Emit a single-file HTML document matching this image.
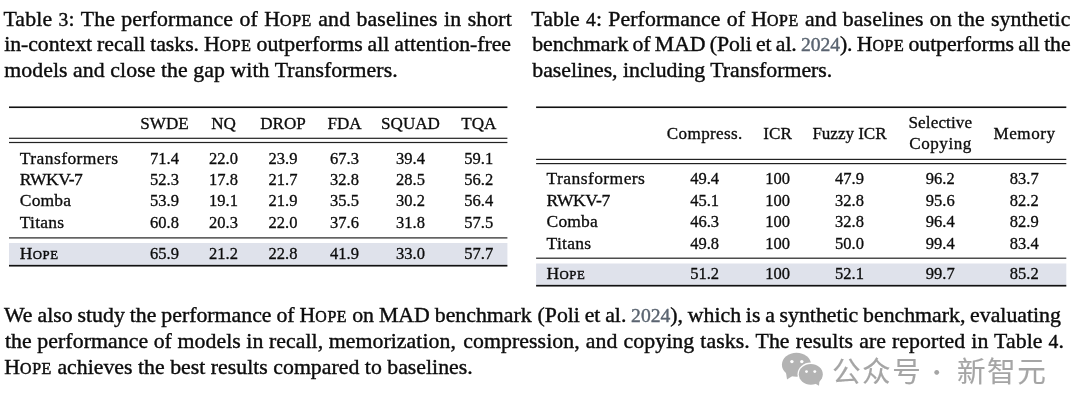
<!DOCTYPE html>
<html lang="en"><head><meta charset="utf-8"><title>Tables</title>
<style>
html,body{margin:0;padding:0;background:#fff;}
body{width:1080px;height:414px;position:relative;overflow:hidden;font-family:"Liberation Serif","Noto Sans CJK SC",serif;color:#0c0c0c;}
.l{position:absolute;white-space:nowrap;font-size:21.8px;line-height:26px;height:26px;-webkit-text-stroke-width:.4px}
small{font-size:.73em;letter-spacing:.6px;-webkit-text-stroke-width:.5px}
.m small{-webkit-text-stroke-width:.42px}
.y{color:#5a6470}
.d{font-size:.9em}
svg.g{position:absolute;left:0;top:0}
.c{-webkit-text-stroke-width:.32px;position:absolute;width:100px;margin-left:-50px;text-align:center;white-space:nowrap;font-size:16.5px;line-height:20px;height:20px}
.h{font-size:17.1px}
.m{-webkit-text-stroke-width:.32px;position:absolute;white-space:nowrap;font-size:17.5px;line-height:20px;height:20px}
.wm{position:absolute;top:349.6px;font-family:"Noto Sans CJK SC","Liberation Sans",sans-serif;font-size:28.6px;line-height:40px;color:#a5a5a5;letter-spacing:1.5px;white-space:nowrap;-webkit-text-stroke-width:.12px}
</style></head><body>
<svg class="g" width="1080" height="414" viewBox="0 0 1080 414">
<rect x="9.0" y="243.0" width="498.4" height="21.90" fill="#dfe2eb"/>
<rect x="9.0" y="106.45" width="498.4" height="1.6" fill="#111"/>
<rect x="9.0" y="137.70" width="498.4" height="1.2" fill="#222"/>
<rect x="9.0" y="141.90" width="498.4" height="1.2" fill="#222"/>
<rect x="9.0" y="237.30" width="498.4" height="1.2" fill="#222"/>
<rect x="9.0" y="264.85" width="498.4" height="1.7" fill="#111"/>
<rect x="536.1" y="263.5" width="530.2" height="21.40" fill="#dfe2eb"/>
<rect x="536.1" y="106.45" width="530.2" height="1.6" fill="#111"/>
<rect x="536.1" y="158.80" width="530.2" height="1.2" fill="#222"/>
<rect x="536.1" y="163.00" width="530.2" height="1.2" fill="#222"/>
<rect x="536.1" y="257.60" width="530.2" height="1.2" fill="#222"/>
<rect x="536.1" y="284.85" width="530.2" height="1.7" fill="#111"/>
</svg>
<div class="l" style="left:3.4px;top:5.6px;letter-spacing:0.150px;word-spacing:0.719px">Table <span class="d">3</span>: The performance of H<small>OPE</small> and baselines in short</div>
<div class="l" style="left:4.2px;top:31.1px;letter-spacing:-0.050px;word-spacing:-0.364px">in-context recall tasks. H<small>OPE</small> outperforms all attention-free</div>
<div class="l" style="left:4.2px;top:56.6px;letter-spacing:0.072px">models and close the gap with Transformers.</div>
<div class="l" style="left:531.3px;top:5.6px;letter-spacing:0.100px;word-spacing:0.553px">Table <span class="d">4</span>: Performance of H<small>OPE</small> and baselines on the synthetic</div>
<div class="l" style="left:532.3px;top:31.1px;letter-spacing:-0.100px;word-spacing:-1.016px">benchmark of MAD (Poli et al. <span class="y d">2024</span>). H<small>OPE</small> outperforms all the</div>
<div class="l" style="left:532.3px;top:56.6px;letter-spacing:-0.009px">baselines, including Transformers.</div>
<div class="l" style="left:4px;top:301.6px;letter-spacing:0.000px;word-spacing:-0.478px">We also study the performance of H<small>OPE</small> on MAD benchmark</div>
<div class="l" style="left:537.5px;top:301.6px;letter-spacing:0.000px;word-spacing:-0.681px">(Poli et al. <span class="y d">2024</span>), which is a synthetic benchmark, evaluating</div>
<div class="l" style="left:5px;top:327.6px;letter-spacing:0.060px;word-spacing:0.021px">the performance of models in recall, memorization,</div>
<div class="l" style="left:463.2px;top:327.6px;letter-spacing:0.080px;word-spacing:0.496px">compression, and copying tasks. The results are reported in Table <span class="d">4</span>.</div>
<div class="l" style="left:4.3px;top:353.6px;letter-spacing:0.016px">H<small>OPE</small> achieves the best results compared to baselines.</div>
<div class="c h" style="left:164.5px;top:113.83px">SWDE</div>
<div class="c h" style="left:223.5px;top:113.83px">NQ</div>
<div class="c h" style="left:283px;top:113.83px">DROP</div>
<div class="c h" style="left:344.5px;top:113.83px">FDA</div>
<div class="c h" style="left:410.5px;top:113.83px">SQUAD</div>
<div class="c h" style="left:478.8px;top:113.83px">TQA</div>
<div class="m" style="left:19.8px;top:148.09px;letter-spacing:0.422px">Transformers</div>
<div class="c" style="left:164.5px;top:149.03px">71.4</div>
<div class="c" style="left:223.5px;top:149.03px">22.0</div>
<div class="c" style="left:283px;top:149.03px">23.9</div>
<div class="c" style="left:344.5px;top:149.03px">67.3</div>
<div class="c" style="left:410.5px;top:149.03px">39.4</div>
<div class="c" style="left:478.8px;top:149.03px">59.1</div>
<div class="m" style="left:19.8px;top:169.09px;letter-spacing:-0.497px">RWKV-7</div>
<div class="c" style="left:164.5px;top:170.03px">52.3</div>
<div class="c" style="left:223.5px;top:170.03px">17.8</div>
<div class="c" style="left:283px;top:170.03px">21.7</div>
<div class="c" style="left:344.5px;top:170.03px">32.8</div>
<div class="c" style="left:410.5px;top:170.03px">28.5</div>
<div class="c" style="left:478.8px;top:170.03px">56.2</div>
<div class="m" style="left:19.8px;top:190.09px;letter-spacing:0.159px">Comba</div>
<div class="c" style="left:164.5px;top:191.03px">53.9</div>
<div class="c" style="left:223.5px;top:191.03px">19.1</div>
<div class="c" style="left:283px;top:191.03px">21.9</div>
<div class="c" style="left:344.5px;top:191.03px">35.5</div>
<div class="c" style="left:410.5px;top:191.03px">30.2</div>
<div class="c" style="left:478.8px;top:191.03px">56.4</div>
<div class="m" style="left:19.8px;top:212.09px;letter-spacing:0.252px">Titans</div>
<div class="c" style="left:164.5px;top:213.03px">60.8</div>
<div class="c" style="left:223.5px;top:213.03px">20.3</div>
<div class="c" style="left:283px;top:213.03px">22.0</div>
<div class="c" style="left:344.5px;top:213.03px">37.6</div>
<div class="c" style="left:410.5px;top:213.03px">31.8</div>
<div class="c" style="left:478.8px;top:213.03px">57.5</div>
<div class="m" style="left:19.8px;top:243.09px;letter-spacing:0.213px">H<small>OPE</small></div>
<div class="c" style="left:164.5px;top:244.03px">65.9</div>
<div class="c" style="left:223.5px;top:244.03px">21.2</div>
<div class="c" style="left:283px;top:244.03px">22.8</div>
<div class="c" style="left:344.5px;top:244.03px">41.9</div>
<div class="c" style="left:410.5px;top:244.03px">33.0</div>
<div class="c" style="left:478.8px;top:244.03px">57.7</div>
<div class="c h" style="left:704.78px;top:123.83px;letter-spacing:0.368px"><span>Compress.</span></div>
<div class="c h" style="left:777.6px;top:123.83px">ICR</div>
<div class="c h" style="left:849.48px;top:123.83px;letter-spacing:-0.043px"><span>Fuzzy ICR</span></div>
<div class="c h" style="left:1024.59px;top:123.83px;letter-spacing:0.585px"><span>Memory</span></div>
<div class="c h" style="left:940.36px;top:112.83px;letter-spacing:0.118px"><span>Selective</span></div>
<div class="c h" style="left:940.56px;top:133.83px;letter-spacing:0.518px"><span>Copying</span></div>
<div class="m" style="left:546.6px;top:168.09px;letter-spacing:0.422px">Transformers</div>
<div class="c" style="left:704.6px;top:169.03px">49.4</div>
<div class="c" style="left:777.6px;top:169.03px">100</div>
<div class="c" style="left:849.5px;top:169.03px">47.9</div>
<div class="c" style="left:940.3px;top:169.03px">96.2</div>
<div class="c" style="left:1024.3px;top:169.03px">83.7</div>
<div class="m" style="left:546.6px;top:190.09px;letter-spacing:-0.377px">RWKV-7</div>
<div class="c" style="left:704.6px;top:191.03px">45.1</div>
<div class="c" style="left:777.6px;top:191.03px">100</div>
<div class="c" style="left:849.5px;top:191.03px">32.8</div>
<div class="c" style="left:940.3px;top:191.03px">95.6</div>
<div class="c" style="left:1024.3px;top:191.03px">82.2</div>
<div class="m" style="left:546.6px;top:211.09px;letter-spacing:0.159px">Comba</div>
<div class="c" style="left:704.6px;top:212.03px">46.3</div>
<div class="c" style="left:777.6px;top:212.03px">100</div>
<div class="c" style="left:849.5px;top:212.03px">32.8</div>
<div class="c" style="left:940.3px;top:212.03px">96.4</div>
<div class="c" style="left:1024.3px;top:212.03px">82.9</div>
<div class="m" style="left:546.6px;top:233.09px;letter-spacing:0.292px">Titans</div>
<div class="c" style="left:704.6px;top:234.03px">49.8</div>
<div class="c" style="left:777.6px;top:234.03px">100</div>
<div class="c" style="left:849.5px;top:234.03px">50.0</div>
<div class="c" style="left:940.3px;top:234.03px">99.4</div>
<div class="c" style="left:1024.3px;top:234.03px">83.4</div>
<div class="m" style="left:546.6px;top:263.09px;letter-spacing:0.213px">H<small>OPE</small></div>
<div class="c" style="left:704.6px;top:264.03px">51.2</div>
<div class="c" style="left:777.6px;top:264.03px">100</div>
<div class="c" style="left:849.5px;top:264.03px">52.1</div>
<div class="c" style="left:940.3px;top:264.03px">99.7</div>
<div class="c" style="left:1024.3px;top:264.03px">85.2</div>
<svg style="position:absolute;left:776px;top:348px" width="56" height="44" viewBox="0 0 56 44">
<g fill="#b3b3b3">
<ellipse cx="20.5" cy="16.8" rx="14.6" ry="12"/>
<path d="M10 24.500L11 31.400L16.800 27.800z"/>
</g>
<ellipse cx="34.800" cy="26.300" rx="13.300" ry="11.700" fill="#fff"/>
<g fill="#b3b3b3">
<ellipse cx="34.800" cy="26.300" rx="12" ry="10.400"/>
<path d="M39 35.600L43 37.800L43.400 33z"/>
</g>
<g fill="#fff">
<circle cx="15.900" cy="13.600" r="1.700"/><circle cx="25.800" cy="13.600" r="1.700"/>
<circle cx="30.500" cy="23.600" r="1.450"/><circle cx="38.800" cy="23.600" r="1.450"/>
</g></svg>
<div class="wm" style="left:832px">公众号</div><div class="wm" style="left:925.8px;top:350.2px;width:16px;text-align:center;letter-spacing:0;font-size:22px">·</div><div class="wm" style="left:957px">新智元</div>
</body></html>
